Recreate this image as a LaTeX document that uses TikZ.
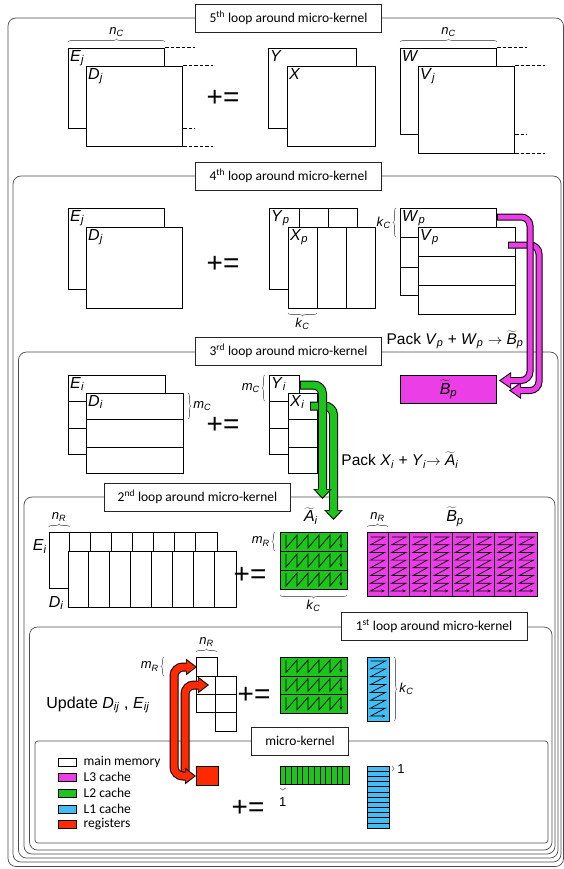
\documentclass[tikz,border=0pt]{standalone}
\usepackage{fontspec}
\setmainfont{Liberation Sans}
\newfontfamily\calfont{Carlito}
\usetikzlibrary{arrows.meta,positioning,calc,decorations.pathreplacing}

\definecolor{lthree}{RGB}{236,62,230}
\definecolor{ltwo}{RGB}{28,196,28}
\definecolor{lone}{RGB}{66,190,245}
\definecolor{regred}{RGB}{255,42,0}

\newcommand{\mvar}[2]{\textit{#1}\textsubscript{\textit{#2}}}
\newcommand{\tvar}[2]{$\widetilde{\mbox{\textit{#1}}}$\textsubscript{\textit{#2}}}

\begin{document}
\begin{tikzpicture}[
	x=1pt,
	y=-1pt,
	font=\fontsize{16}{18}\selectfont,
	loopframe/.style={draw=black!70,line width=0.7pt,rounded corners=8pt},
	looptitle/.style={draw=black!85,fill=white,line width=0.8pt,minimum width=186pt,minimum height=28pt,inner sep=1pt,font=\calfont\fontsize{13.5}{15}\selectfont},
	mat/.style={draw=black,fill=white,line width=1pt,anchor=north west,inner sep=0pt},
	varlbl/.style={anchor=north west,inner sep=2pt},
	brlbl/.style={font=\fontsize{13}{15}\selectfont,inner sep=1pt},
	brc/.style={decorate,decoration={brace,amplitude=3pt,aspect=0.5},draw=black!55,line width=0.6pt},
	cont/.style={draw=black,line width=1pt,dash pattern=on 3.5pt off 2pt},
	pluseq/.style={font=\fontsize{28}{30}\selectfont,inner sep=0pt},
	sep/.style={draw=black,line width=1pt},
	zig/.style={draw=black,line width=0.7pt,-{Stealth[length=3.5pt,width=3pt]}},
	legtxt/.style={anchor=west,xshift=5pt,inner sep=2pt,font=\calfont\fontsize{13.5}{15}\selectfont},
	packBout/.style={draw=black,line width=7pt,rounded corners=9pt,-{Triangle[length=12pt,width=16pt]}},
	packBin/.style={draw=lthree,line width=5pt,rounded corners=9pt,shorten <=1pt,shorten >=1.8pt,-{Triangle[length=9.5pt,width=12.7pt]}},
	packAout/.style={draw=black,line width=9pt,rounded corners=9pt,-{Triangle[length=10pt,width=18pt]}},
	packAin/.style={draw=ltwo,line width=7pt,rounded corners=9pt,shorten <=1pt,shorten >=1.5pt,-{Triangle[length=7.8pt,width=14pt]}},
	regout/.style={draw=black,line width=9pt,rounded corners=9pt,{Triangle[length=11pt,width=16pt]}-{Triangle[length=11pt,width=16pt]}},
	regin/.style={draw=regred,line width=7pt,rounded corners=9pt,shorten <=1.7pt,shorten >=1.7pt,{Triangle[length=8.6pt,width=12.5pt]}-{Triangle[length=8.6pt,width=12.5pt]}},
	reginout/.style={draw=black,line width=9pt,rounded corners=9pt,-{Triangle[length=11pt,width=16pt]}},
	reginin/.style={draw=regred,line width=7pt,rounded corners=9pt,shorten >=1.7pt,-{Triangle[length=8.6pt,width=12.5pt]}}
	]
	\useasboundingbox (0,0) rectangle (564,869);
	
	% loop frames, outermost first
	\draw[loopframe] (8,18) rectangle (563.5,866.5);
	\draw[loopframe] (13,176) rectangle (561,862);
	\draw[loopframe] (18.5,352) rectangle (558,858);
	\draw[loopframe] (24,497) rectangle (555,854);
	\draw[loopframe] (29.5,627) rectangle (552,850);
	\draw[loopframe,rounded corners=3pt] (35,741) rectangle (548,843);
	
	\node[looptitle] (t5) at (288.5,18) {5\textsuperscript{th} loop around micro-kernel};
	\node[looptitle] (t4) at (288.5,176) {4\textsuperscript{th} loop around micro-kernel};
	\node[looptitle] (t3) at (288.5,351) {3\textsuperscript{rd} loop around micro-kernel};
	\node[looptitle] (t2) at (197.5,497) {2\textsuperscript{nd} loop around micro-kernel};
	\node[looptitle] (t1) at (434,626) {1\textsuperscript{st} loop around micro-kernel};
	\node[looptitle,minimum width=97pt] (tmk) at (300,741) {micro-kernel};
	
	% 5th loop
	\node[mat,minimum width=96pt,minimum height=80pt] (Ej5) at (68,48) {};
	\node[varlbl] (lEj5) at (Ej5.north west) {\mvar{E}{j}};
	\node[mat,minimum width=96pt,minimum height=80pt] (Dj5) at (86,66) {};
	\node[varlbl] (lDj5) at (Dj5.north west) {\mvar{D}{j}};
	\draw[cont] (Ej5.north east) -- ++(30,0);
	\draw[cont] (Dj5.north east) -- ++(30,0);
	\draw[cont] (Dj5.east |- Ej5.south) -- ++(12,0);
	\draw[cont] (Dj5.south east) -- ++(30,0);
	\draw[brc] ($(Ej5.north west)+(0,-6)$) -- ($(Ej5.north east)+(0,-6)$) node[brlbl,midway,above=4pt] (nc5a) {\mvar{n}{C}};
	\node[pluseq] (pe5) at (223,98) {+=};
	\node[mat,minimum width=88pt,minimum height=80pt] (Y5) at (268,48) {};
	\node[varlbl] (lY5) at (Y5.north west) {\textit{Y}};
	\node[mat,minimum width=88pt,minimum height=80pt] (X5) at (287,66) {};
	\node[varlbl] (lX5) at (X5.north west) {\textit{X}};
	\node[mat,minimum width=96pt,minimum height=86pt] (W5) at (400,48) {};
	\node[varlbl] (lW5) at (W5.north west) {\textit{W}};
	\node[mat,minimum width=96pt,minimum height=87pt] (V5) at (418,66) {};
	\node[varlbl] (lV5) at (V5.north west) {\mvar{V}{j}};
	\draw[cont] (W5.north east) -- ++(30,0);
	\draw[cont] (V5.north east) -- ++(30,0);
	\draw[cont] (V5.east |- W5.south) -- ++(12,0);
	\draw[cont] (V5.south east) -- ++(30,0);
	\draw[brc] ($(W5.north west)+(0,-6)$) -- ($(W5.north east)+(0,-6)$) node[brlbl,midway,above=4pt] (nc5b) {\mvar{n}{C}};
	
	% 4th loop
	\node[mat,minimum width=96pt,minimum height=81pt] (Ej4) at (68,208) {};
	\node[varlbl] (lEj4) at (Ej4.north west) {\mvar{E}{j}};
	\node[mat,minimum width=96pt,minimum height=81pt] (Dj4) at (86,227) {};
	\node[varlbl] (lDj4) at (Dj4.north west) {\mvar{D}{j}};
	\node[pluseq] (pe4) at (223,264) {+=};
	\node[mat,minimum width=88pt,minimum height=81pt] (Yp4) at (269,208) {};
	\node[varlbl] (lYp4) at (Yp4.north west) {\mvar{Y}{p}};
	\foreach \x in {299,328} {
		\draw[sep] (\x,208) -- (\x,227);
	}
	\node[mat,minimum width=87pt,minimum height=81pt] (Xp4) at (288,227) {};
	\node[varlbl] (lXp4) at (Xp4.north west) {\mvar{X}{p}};
	\foreach \x in {317,346} {
		\draw[sep] (\x,227) -- (\x,308);
	}
	\draw[brc] (317,313) -- (288,313) node[brlbl,midway,below=4pt] (kc4a) {\mvar{k}{C}};
	\node[mat,minimum width=96pt,minimum height=87pt] (Wp4) at (400,208) {};
	\node[varlbl] (lWp4) at (Wp4.north west) {\mvar{W}{p}};
	\foreach \y in {237,267} {
		\draw[sep] (400,\y) -- (496,\y);
	}
	\node[mat,minimum width=97pt,minimum height=87pt] (Vp4) at (418,227) {};
	\node[varlbl] (lVp4) at (Vp4.north west) {\mvar{V}{p}};
	\foreach \y in {256,285} {
		\draw[sep] (418,\y) -- (515,\y);
	}
	\draw[brc] (396,237) -- (396,208) node[brlbl,midway,left=4pt] (kc4b) {\mvar{k}{C}};
	\node[font=\fontsize{15.5}{18}\selectfont] (pkB) at (455,340) {Pack \mvar{V}{p} + \mvar{W}{p} $\rightarrow$ \tvar{B}{p}};
	
	% 3rd loop
	\node[mat,minimum width=97pt,minimum height=79pt] (Ei3) at (68,375) {};
	\node[varlbl] (lEi3) at (Ei3.north west) {\mvar{E}{i}};
	\foreach \y in {401,428} {
		\draw[sep] (68,\y) -- (165,\y);
	}
	\node[mat,minimum width=97pt,minimum height=80pt] (Di3) at (86,393) {};
	\node[varlbl] (lDi3) at (Di3.north west) {\mvar{D}{i}};
	\foreach \y in {419,447} {
		\draw[sep] (86,\y) -- (183,\y);
	}
	\draw[brc] (188,393) -- (188,419) node[brlbl,midway,right=4pt] (mc3a) {\mvar{m}{C}};
	\node[pluseq] (pe3) at (223,425) {+=};
	\node[mat,minimum width=30pt,minimum height=79pt] (Yi3) at (269,375) {};
	\node[varlbl] (lYi3) at (Yi3.north west) {\mvar{Y}{i}};
	\foreach \y in {401,428} {
		\draw[sep] (269,\y) -- (299,\y);
	}
	\node[mat,minimum width=29pt,minimum height=80pt] (Xi3) at (288,393) {};
	\node[varlbl] (lXi3) at (Xi3.north west) {\mvar{X}{i}};
	\foreach \y in {419,447} {
		\draw[sep] (288,\y) -- (317,\y);
	}
	\draw[brc] (265,401) -- (265,375) node[brlbl,midway,left=4pt] (mc3b) {\mvar{m}{C}};
	\node[mat,fill=lthree,minimum width=96pt,minimum height=28pt] (Bp3) at (400,375) {};
	\node (lBp3) at (Bp3.center) {\tvar{B}{p}};
	\node[font=\fontsize{15.5}{18}\selectfont] (pkA) at (400,460) {Pack \mvar{X}{i} + \mvar{Y}{i}$\rightarrow$ \tvar{A}{i}};
	
	% 2nd loop
	\node[mat,minimum width=168pt,minimum height=56pt] (Ei2) at (48.6,532) {};
	\foreach \k in {1,...,7} {
		\draw[sep] (48.6+21*\k,532) -- ++(0,19);
	}
	\node[mat,minimum width=168pt,minimum height=56pt] (Di2) at (67.7,551) {};
	\foreach \k in {1,...,7} {
		\draw[sep] (67.7+21*\k,551) -- ++(0,56);
	}
	\node[anchor=north east,inner sep=1.5pt] (lEi2) at ($(Ei2.north west)+(0,6)$) {\mvar{E}{i}};
	\node[anchor=north west,inner sep=1pt] (lDi2) at ($(Ei2.south west)+(-1,6)$) {\mvar{D}{i}};
	\draw[brc] (48.6,527) -- (69.6,527) node[brlbl,midway,above=4pt] (nr2a) {\mvar{n}{R}};
	\node[pluseq] (pe2) at (250,575) {+=};
	\node[mat,fill=ltwo,minimum width=67pt,minimum height=57pt] (Ai2) at (280,532) {};
	\foreach \y in {551,570} {
		\draw[sep] (280,\y) -- (347,\y);
	}
	\foreach \r in {0,1,2} {
		\draw[zig] (286,535+19*\r) \foreach \k in {1,...,5} { -- ++(0,13) -- ++(11,-13) } -- ++(0,13);
	}
	\node (lAi2) at (311,516) {\tvar{A}{i}};
	\draw[brc] (275,551) -- (275,532) node[brlbl,midway,left=4pt] (mr2) {\mvar{m}{R}};
	\draw[brc] (347,595) -- (280,595) node[brlbl,midway,below=4pt] (kc2) {\mvar{k}{C}};
	\node[mat,fill=lthree,minimum width=170pt,minimum height=64pt] (Bp2) at (367,532) {};
	\foreach \k in {1,...,7} {
		\draw[sep] (367+21.25*\k,532) -- ++(0,64);
	}
	\foreach \col in {0,...,7} {
		\draw[zig] (370.5+21.25*\col,537) \foreach \k in {1,...,7} { -- ++(14.25,0) -- ++(-14.25,7.7) } -- ++(14.25,0);
	}
	\node (lBp2) at (455,517) {\tvar{B}{p}};
	\draw[brc] (367,527) -- (388.25,527) node[brlbl,midway,above=4pt] (nr2b) {\mvar{n}{R}};
	
	% 1st loop
	\node[mat,minimum width=21pt,minimum height=55pt] (cE1) at (196,657) {};
	\foreach \y in {676,694} {
		\draw[sep] (196,\y) -- (217,\y);
	}
	\node[mat,minimum width=21pt,minimum height=55pt] (cD1) at (215,676) {};
	\foreach \y in {694,712} {
		\draw[sep] (215,\y) -- (236,\y);
	}
	\draw[brc] (196,652) -- (217,652) node[brlbl,midway,above=4pt] (nr1) {\mvar{n}{R}};
	\draw[brc] (164,676) -- (164,657) node[brlbl,midway,left=4pt] (mr1) {\mvar{m}{R}};
	\node (upd) at (98,705) {Update \mvar{D}{ij} , \mvar{E}{ij}};
	\node[pluseq] (pe1) at (254,695) {+=};
	\node[mat,fill=ltwo,minimum width=67pt,minimum height=56pt] (Ai1) at (280,657) {};
	\foreach \y in {676,694.5} {
		\draw[sep] (280,\y) -- (347,\y);
	}
	\foreach \r in {0,1,2} {
		\draw[zig] (286,660+18.7*\r) \foreach \k in {1,...,5} { -- ++(0,12.5) -- ++(11,-12.5) } -- ++(0,12.5);
	}
	\node[mat,fill=lone,minimum width=22pt,minimum height=64pt] (Bl1) at (367,657) {};
	\draw[zig] (370.5,661) \foreach \k in {1,...,7} { -- ++(15,0) -- ++(-15,7.86) } -- ++(15,0);
	\draw[brc] (394,657) -- (394,721) node[brlbl,midway,right=4pt] (kc1) {\mvar{k}{C}};
	
	% micro-kernel
	\foreach \y/\cl/\t [count=\i] in {762/white/main memory,777/lthree/L3 cache,793/ltwo/L2 cache,809/lone/L1 cache,824/regred/registers} {
		\node[mat,anchor=center,fill=\cl,minimum width=18pt,minimum height=8pt] (key\i) at (67,\y) {};
		\node[legtxt] (keytxt\i) at (key\i.east) {\t};
	}
	\node[mat,fill=regred,minimum width=22pt,minimum height=19pt] (reg) at (196,766) {};
	\node[pluseq] (pe0) at (248,808) {+=};
	\node[mat,fill=ltwo,minimum width=68.5pt,minimum height=18pt] (arow) at (280,766) {};
	\foreach \k in {1,...,11} {
		\draw[sep,line width=0.7pt] (280+5.71*\k,766) -- ++(0,18);
	}
	\draw[brc,decoration={brace,amplitude=2pt}] (285.7,788) -- (280,788) node[brlbl,midway,below=8pt] (one1) {1};
	\node[mat,fill=lone,minimum width=22pt,minimum height=62pt] (bcol) at (367,766) {};
	\foreach \k in {1,...,11} {
		\draw[sep,line width=0.7pt] (367,766+5.17*\k) -- ++(22,0);
	}
	\draw[brc,decoration={brace,amplitude=2pt}] (392,766) -- (392,771.2) node[brlbl,midway,right=4pt] (one2) {1};
	
	% packing arrows
	\draw[packBout] ($(Vp4.north east)+(-8,18)$) -- ++(31,0) |- ($(Bp3.east)+(12,1)$);
	\draw[packBin] ($(Vp4.north east)+(-8,18)$) -- ++(31,0) |- ($(Bp3.east)+(12,1)$);
	\draw[packBout] ($(Wp4.north east)+(0,9)$) -- ++(33,0) |- ($(Bp3.east)+(2,-9)$);
	\draw[packBin] ($(Wp4.north east)+(0,9)$) -- ++(33,0) |- ($(Bp3.east)+(2,-9)$);
	\draw[packAout] ($(Xi3.north east)+(-8,13)$) -| ($(Ai2.north)+(19.5,-12)$);
	\draw[packAin] ($(Xi3.north east)+(-8,13)$) -| ($(Ai2.north)+(19.5,-12)$);
	\draw[packAout] ($(Yi3.north east)+(0,10)$) -| ($(Ai2.north)+(8.5,-33)$);
	\draw[packAin] ($(Yi3.north east)+(0,10)$) -| ($(Ai2.north)+(8.5,-33)$);
	
	% register transfers
	\draw[reginout] ($(reg.west)+(-11,-3)$) |- ($(cE1.north west)+(13,28)$);
	\draw[reginin] ($(reg.west)+(-11,-3)$) |- ($(cE1.north west)+(13,28)$);
	\draw[regout] (reg.west) -- ++(-22,0) |- ($(cE1.north west)+(1,10)$);
	\draw[regin] (reg.west) -- ++(-22,0) |- ($(cE1.north west)+(1,10)$);
\end{tikzpicture}
\end{document}
